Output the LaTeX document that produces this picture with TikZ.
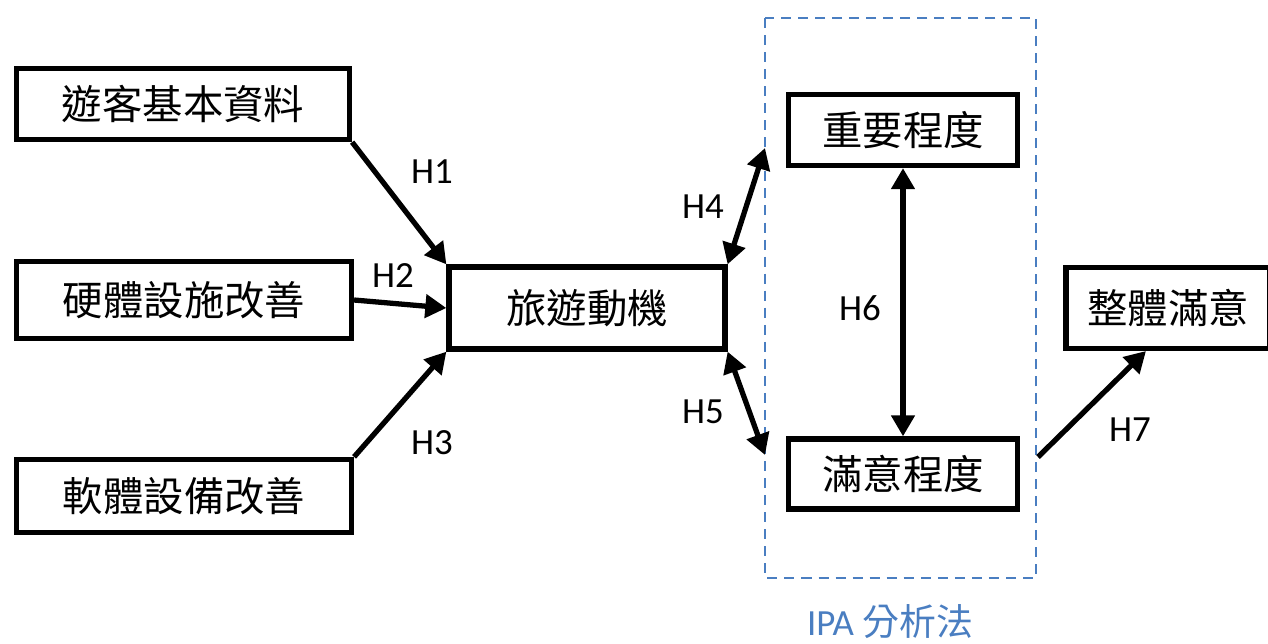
\documentclass[tikz,border=0pt]{standalone}
\usepackage{fontspec}
\setmainfont{Carlito}
\newfontfamily\cjk{Noto Sans CJK TC}
\usetikzlibrary{arrows.meta}
\definecolor{ipablue}{RGB}{74,126,193}

\begin{document}
\begin{tikzpicture}[
  x=0.02cm, y=-0.02cm,
  every node/.style = {align=center, font=\fontsize{21}{25}\selectfont},
  Box/.style = {draw, line width=3pt, inner sep=0pt, font=\cjk\fontsize{23}{27}\selectfont}
  ]
  \useasboundingbox (0,0) rectangle (1268,643);

  \node[Box, minimum width=6.66cm, minimum height=1.42cm] (basic) at (183,104) {遊客基本資料};
  \node[Box, minimum width=6.7cm, minimum height=1.54cm] (hard) at (184,300) {硬體設施改善};
  \node[Box, minimum width=6.7cm, minimum height=1.46cm] (soft) at (184,496) {軟體設備改善};
  \node[Box, minimum width=5.52cm, minimum height=1.64cm] (motive) at (587,308) {旅遊動機};
  \node[Box, minimum width=4.58cm, minimum height=1.42cm] (imp) at (903,130) {重要程度};
  \node[Box, minimum width=4.58cm, minimum height=1.40cm] (sat) at (903,474) {滿意程度};
  \node[Box, minimum width=4.08cm, minimum height=1.62cm] (overall) at (1168,308) {整體滿意};

  \draw[ipablue, line width=1.2pt, dash pattern=on 5.7pt off 4pt] (765,18) rectangle (1036,578);
  \node[text=ipablue] (ipa) at (890,622) {IPA {\cjk 分析法}};

  \coordinate (h4end) at (765,148);
  \coordinate (h5end) at (765,455);
  \coordinate (h7start) at (1038,457);
  \coordinate (h7end) at (1146,351);

  \tikzset{Arrow/.style = {line width=3pt, -{Triangle[length=12pt,width=13pt]}}}
  \tikzset{BiArrow/.style = {line width=3pt, {Triangle[length=12pt,width=13pt]}-{Triangle[length=12pt,width=13pt]}}}

  \draw[Arrow](basic.south east) -- (motive.north west);
  \draw[Arrow](hard.east) -- (motive.west);
  \draw[Arrow](soft.north east) -- (motive.south west);
  \draw[BiArrow](motive.north east) -- (h4end);
  \draw[BiArrow](motive.south east) -- (h5end);
  \draw[BiArrow](imp.south) -- (sat.north);
  \draw[Arrow](h7start) -- (h7end);

  \node (h1) at (432,172) {H1};
  \node (h2) at (393,276) {H2};
  \node (h3) at (432,443) {H3};
  \node (h4) at (703,207) {H4};
  \node (h5) at (703,412) {H5};
  \node (h6) at (860,308) {H6};
  \node (h7) at (1130,430) {H7};

\end{tikzpicture}
\end{document}
